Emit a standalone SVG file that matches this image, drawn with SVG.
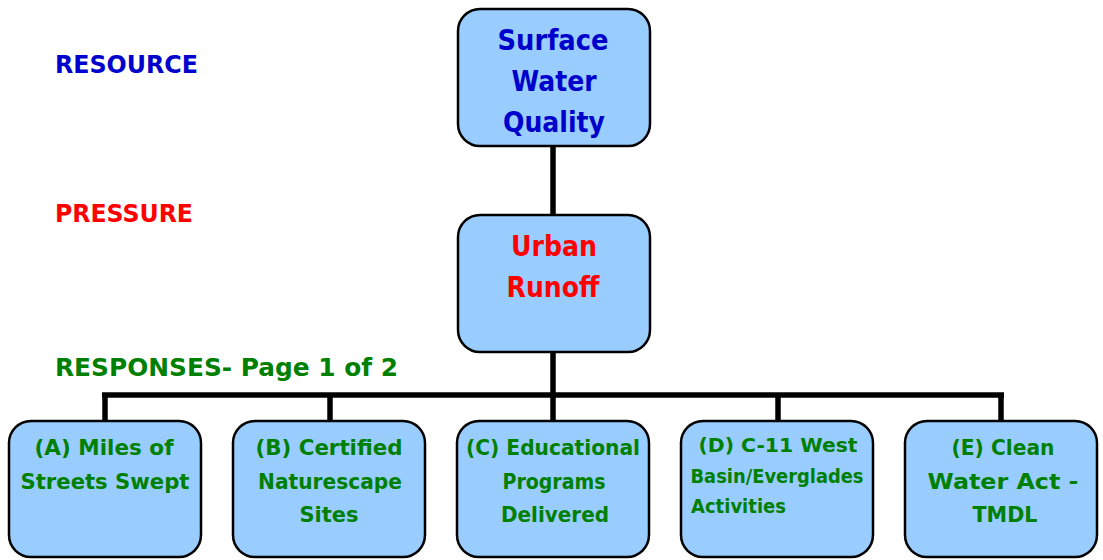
<svg xmlns="http://www.w3.org/2000/svg" width="1103" height="560" viewBox="0 0 1103 560">
<style>
.box{fill:#99CCFF;stroke:#000;stroke-width:2.5}
text{font-family:"DejaVu Sans","Liberation Sans",sans-serif;font-weight:bold}
.big{font-size:28px;text-anchor:middle}
.lbl{font-size:24px}
.sm{font-size:22px;fill:#008000;text-anchor:middle}
.xs{font-size:20px;fill:#008000}
.blue{fill:#0000CC}
.red{fill:#FF0000}
.green{fill:#008000}
.conn{stroke:#000;stroke-width:5.5;fill:none}
</style>
<rect width="1103" height="560" fill="#fff"/>
<g id="labels">
<text class="lbl blue" x="55" y="73" textLength="143" lengthAdjust="spacingAndGlyphs">RESOURCE</text>
<text class="lbl red" x="55" y="222" textLength="138" lengthAdjust="spacingAndGlyphs">PRESSURE</text>
<text class="lbl green" x="55" y="376" textLength="343" lengthAdjust="spacingAndGlyphs">RESPONSES- Page 1 of 2</text>
</g>
<g id="connectors">
<line class="conn" x1="553" y1="146" x2="553" y2="215"/>
<line class="conn" x1="553" y1="352" x2="553" y2="421"/>
<line class="conn" x1="102" y1="395" x2="1004" y2="395"/>
<line class="conn" x1="105" y1="395" x2="105" y2="421"/>
<line class="conn" x1="330" y1="395" x2="330" y2="421"/>
<line class="conn" x1="778" y1="395" x2="778" y2="421"/>
<line class="conn" x1="1001" y1="395" x2="1001" y2="421"/>
</g>
<g id="resource">
<rect class="box" x="458" y="9" width="192" height="137" rx="22"/>
<text class="big blue" x="553" y="50" textLength="111" lengthAdjust="spacingAndGlyphs">Surface</text>
<text class="big blue" x="554" y="91" textLength="85" lengthAdjust="spacingAndGlyphs">Water</text>
<text class="big blue" x="554" y="132" textLength="102" lengthAdjust="spacingAndGlyphs">Quality</text>
</g>
<g id="pressure">
<rect class="box" x="458" y="215" width="192" height="137" rx="22"/>
<text class="big red" x="554" y="256" textLength="86" lengthAdjust="spacingAndGlyphs">Urban</text>
<text class="big red" x="553" y="297" textLength="93" lengthAdjust="spacingAndGlyphs">Runoff</text>
</g>
<g id="responseA">
<rect class="box" x="9" y="421" width="192" height="136" rx="22"/>
<text class="sm" x="104" y="455" textLength="139" lengthAdjust="spacingAndGlyphs">(A) Miles of</text>
<text class="sm" x="105" y="489" textLength="169" lengthAdjust="spacingAndGlyphs">Streets Swept</text>
</g>
<g id="responseB">
<rect class="box" x="233" y="421" width="192" height="136" rx="22"/>
<text class="sm" x="329" y="455" textLength="147" lengthAdjust="spacingAndGlyphs">(B) Certified</text>
<text class="sm" x="330" y="489" textLength="144" lengthAdjust="spacingAndGlyphs">Naturescape</text>
<text class="sm" x="329" y="522" textLength="59" lengthAdjust="spacingAndGlyphs">Sites</text>
</g>
<g id="responseC">
<rect class="box" x="457" y="421" width="192" height="136" rx="22"/>
<text class="sm" x="553" y="455" textLength="174" lengthAdjust="spacingAndGlyphs">(C) Educational</text>
<text class="sm" x="554" y="489" textLength="103" lengthAdjust="spacingAndGlyphs">Programs</text>
<text class="sm" x="555" y="522" textLength="108" lengthAdjust="spacingAndGlyphs">Delivered</text>
</g>
<g id="responseD">
<rect class="box" x="681" y="421" width="192" height="136" rx="22"/>
<text class="xs" x="778" y="452" text-anchor="middle" textLength="159" lengthAdjust="spacingAndGlyphs">(D) C-11 West</text>
<text class="xs" x="777" y="483" text-anchor="middle" textLength="173" lengthAdjust="spacingAndGlyphs">Basin/Everglades</text>
<text class="xs" x="691" y="513" textLength="95" lengthAdjust="spacingAndGlyphs">Activities</text>
</g>
<g id="responseE">
<rect class="box" x="905" y="421" width="192" height="136" rx="22"/>
<text class="sm" x="1003" y="455" textLength="103" lengthAdjust="spacingAndGlyphs">(E) Clean</text>
<text class="sm" x="1003" y="489" textLength="151" lengthAdjust="spacingAndGlyphs">Water Act -</text>
<text class="sm" x="1005" y="522" textLength="65" lengthAdjust="spacingAndGlyphs">TMDL</text>
</g>
</svg>
